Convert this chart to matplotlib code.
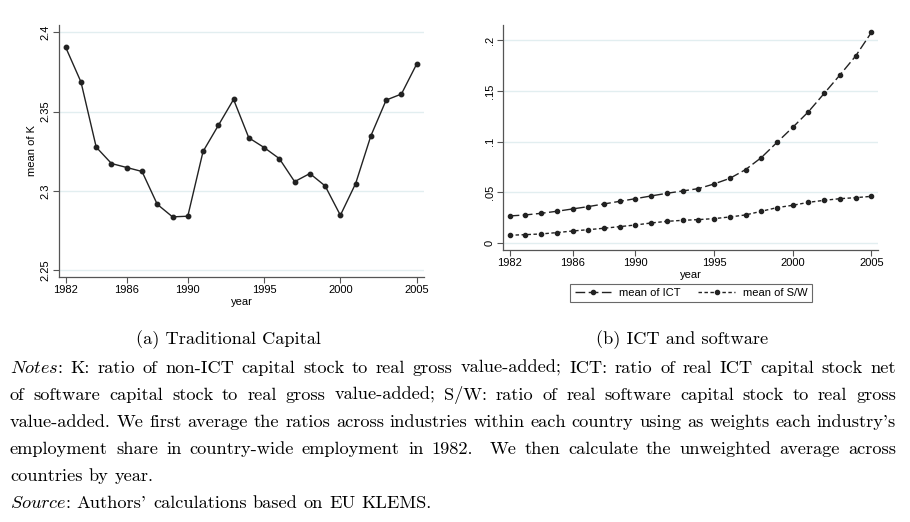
import matplotlib
matplotlib.use("Agg")
import matplotlib.pyplot as plt
from matplotlib.lines import Line2D

# =========================
# DATA
# =========================

years = [1982, 1983, 1984, 1985, 1986, 1987, 1988, 1989, 1990, 1991, 1992, 1993,
         1994, 1995, 1996, 1997, 1998, 1999, 2000, 2001, 2002, 2003, 2004, 2005]

mean_k = [2.3905, 2.3687, 2.3276, 2.3173, 2.3148, 2.3123, 2.2916, 2.2837,
          2.2841, 2.3249, 2.3413, 2.3577, 2.3335, 2.3274, 2.3204, 2.3059,
          2.3110, 2.3032, 2.2847, 2.3047, 2.3348, 2.3573, 2.3611, 2.3800]

mean_ict = [0.0269, 0.0279, 0.0295, 0.0315, 0.0338, 0.0361, 0.0387, 0.0413,
            0.0439, 0.0466, 0.0492, 0.0515, 0.0538, 0.0584, 0.0639, 0.0725,
            0.0843, 0.0993, 0.1141, 0.1295, 0.1475, 0.1656, 0.1843, 0.2075]

mean_sw = [0.0079, 0.0085, 0.0092, 0.0105, 0.0121, 0.0134, 0.0148, 0.0164,
           0.0180, 0.0200, 0.0216, 0.0226, 0.0233, 0.0243, 0.0259, 0.0279,
           0.0315, 0.0351, 0.0374, 0.0403, 0.0423, 0.0439, 0.0449, 0.0462]

x_ticks = [1982, 1986, 1990, 1995, 2000, 2005]
k_ticks = [2.25, 2.3, 2.35, 2.4]
k_labels = ["2.25", "2.3", "2.35", "2.4"]
ict_ticks = [0, 0.05, 0.1, 0.15, 0.2]
ict_labels = ["0", ".05", ".1", ".15", ".2"]

caption_a = "(a) Traditional Capital"
caption_b = "(b) ICT and software"

notes_lines = [
    r"$\it{Notes}$: K: ratio of non-ICT capital stock to real gross value-added; ICT: ratio of real ICT capital stock net",
    "of software capital stock to real gross value-added; S/W: ratio of real software capital stock to real gross",
    "value-added. We first average the ratios across industries within each country using as weights each industry's",
    "employment share in country-wide employment in 1982.  We then calculate the unweighted average across",
    "countries by year.",
    r"$\it{Source}$: Authors' calculations based on EU KLEMS.",
]

# =========================
# STYLE
# =========================

plt.rcParams["font.family"] = ["Liberation Sans", "DejaVu Sans"]
plt.rcParams["mathtext.fontset"] = "cm"

line_col = "#222222"
grid_col = "#e2eef0"
spine_col = "#555555"
tick_size = 8

W, H = 910, 522
fig = plt.figure(figsize=(W / 100, H / 100), dpi=100)


def style_axes(ax):
    for s in ["top", "right"]:
        ax.spines[s].set_visible(False)
    for s in ["left", "bottom"]:
        ax.spines[s].set_color(spine_col)
        ax.spines[s].set_linewidth(0.9)
    ax.tick_params(axis="both", direction="out", length=4, width=0.8,
                   color=spine_col, labelsize=tick_size, pad=2)
    ax.grid(axis="y", color=grid_col, linewidth=1.0)
    ax.set_axisbelow(True)
    for lab in ax.get_yticklabels():
        lab.set_rotation(90)
        lab.set_va("center")


# =========================
# PANEL A
# =========================

ax1 = fig.add_axes([59 / W, 1 - 277 / H, 365 / W, 252 / H])
ax1.plot(years, mean_k, color=line_col, linewidth=1.0,
         marker="o", markersize=3.2)
ax1.set_xlim(1981.56, 2005.48)
ax1.set_ylim(2.2458, 2.4046)
ax1.set_xticks(x_ticks)
ax1.set_yticks(k_ticks)
ax1.set_yticklabels(k_labels)
ax1.set_xlabel("year", fontsize=tick_size, labelpad=1)
ax1.set_ylabel("mean of K", fontsize=tick_size, labelpad=3)
style_axes(ax1)

# =========================
# PANEL B
# =========================

ax2 = fig.add_axes([503 / W, 1 - 250 / H, 375 / W, 225 / H])
ax2.plot(years, mean_ict, color=line_col, linewidth=1.0,
         linestyle=(0, (7, 2.5)), marker="o", markersize=3.0)
ax2.plot(years, mean_sw, color=line_col, linewidth=1.0,
         linestyle=(0, (2.5, 1.8)), marker="o", markersize=3.0)
ax2.set_xlim(1981.58, 2005.42)
ax2.set_ylim(-0.0066, 0.2148)
ax2.set_xticks(x_ticks)
ax2.set_yticks(ict_ticks)
ax2.set_yticklabels(ict_labels)
ax2.set_xlabel("year", fontsize=tick_size, labelpad=1)
style_axes(ax2)

handles = [
    Line2D([], [], color=line_col, linewidth=1.0, linestyle=(0, (7, 2.5)),
           marker="o", markersize=3.0),
    Line2D([], [], color=line_col, linewidth=1.0, linestyle=(0, (2.5, 1.8)),
           marker="o", markersize=3.0),
]
leg = fig.legend(handles, ["mean of ICT", "mean of S/W"],
                 loc="center", bbox_to_anchor=(691 / W, 1 - 293 / H),
                 ncol=2, fontsize=tick_size, frameon=True, fancybox=False,
                 handlelength=3.3, numpoints=1, columnspacing=1.6,
                 borderpad=0.4, handletextpad=0.7)
leg.get_frame().set_edgecolor("#444444")
leg.get_frame().set_linewidth(0.8)

# =========================
# CAPTIONS AND NOTES
# =========================

serif = "cmr10"
note_size = 13.2

fig.text(228 / W, 1 - 340 / H, caption_a, fontsize=note_size, family=serif,
         ha="center", va="center")
fig.text(682 / W, 1 - 340 / H, caption_b, fontsize=note_size, family=serif,
         ha="center", va="center")

renderer = fig.canvas.get_renderer()


def text_width(s):
    t = fig.text(0, 0, s, fontsize=note_size, family=serif)
    w = t.get_window_extent(renderer).width
    t.remove()
    return w


space_w = text_width("a b") - text_width("ab")
x_left, x_right = 10, 896
baselines = [373, 400, 427, 454, 481, 508]

for i, line in enumerate(notes_lines):
    words = line.split(" ")
    widths = [text_width(w) if w else 0 for w in words]
    justify = i in (0, 1, 2, 3)
    if justify:
        gap = (x_right - x_left - sum(widths)) / (len(words) - 1)
    else:
        gap = space_w
    x = x_left
    for w, wd in zip(words, widths):
        if w:
            fig.text(x / W, 1 - baselines[i] / H, w, fontsize=note_size,
                     family=serif, ha="left", va="baseline")
        x += wd + gap

fig.savefig("out.png", dpi=100)
